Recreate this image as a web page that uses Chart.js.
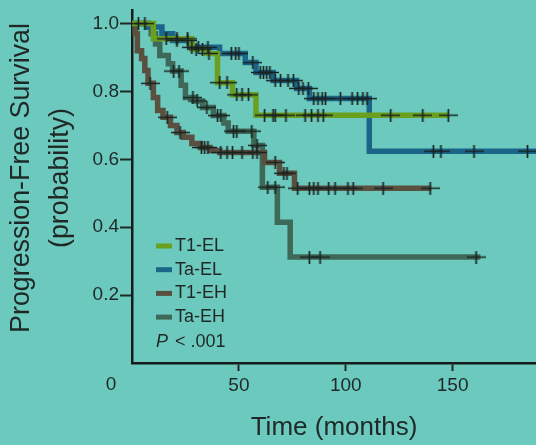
<!DOCTYPE html>
<html>
<head>
<meta charset="utf-8">
<script src="https://cdn.jsdelivr.net/npm/chart.js@4.4.1/dist/chart.umd.min.js"></script>
<style>
  html, body { margin: 0; padding: 0; background: #6cc9bd; overflow: hidden; }
  #wrap { position: relative; width: 536px; height: 445px; }
  #wrap canvas { display: block; }
</style>
</head>
<body>
<div id="wrap"><canvas id="km"></canvas></div>
<script>
(function () {
  "use strict";

  // groups and colours
  var groups = ["T1-EL", "Ta-EL", "T1-EH", "Ta-EH"];
  var colors = ["#6a9f1f", "#1b6589", "#5a5040", "#3e6857"];

  // step points (months, survival)
  var t1elTime = [0, 10, 28, 35, 40, 47, 58, 148];
  var t1elSurv = [1, 0.955, 0.925, 0.912, 0.826, 0.79, 0.73, 0.73];
  var t1elCens = [16, 21, 26, 30, 33, 36, 41, 44.5, 49, 51.5, 54.5, 62, 66, 67, 72, 81, 84, 87, 89.5, 121, 136, 148];

  var taelTime = [0, 8, 14, 19, 27, 41, 53, 58, 66, 77, 83, 111, 189];
  var taelSurv = [1, 0.99, 0.97, 0.95, 0.93, 0.912, 0.885, 0.856, 0.832, 0.809, 0.779, 0.624, 0.624];
  var taelCens = [3, 6, 21, 26, 28, 31, 35.5, 46.5, 48.5, 50, 56.5, 60, 61.5, 63, 64.5, 67, 69.5, 73, 75.5, 78, 80, 82.5,
                  85, 87, 89, 90.5, 97.5, 103, 105.5, 108, 110, 141, 144.5, 160, 185];

  var t1ehTime = [0, 1.5, 2.5, 4.5, 6, 7.5, 10, 12, 14.5, 18, 21, 24, 28, 32, 36.5, 41, 62, 69, 76, 140];
  var t1ehSurv = [1, 0.97, 0.92, 0.897, 0.862, 0.824, 0.782, 0.744, 0.724, 0.7, 0.679, 0.665, 0.647, 0.635, 0.626, 0.62,
                  0.591, 0.559, 0.515, 0.515];
  var t1ehCens = [8.5, 16.5, 22.5, 32.5, 34, 35.5, 41.5, 44.5, 47, 51.5, 56.5, 58.5, 67, 71, 72.5, 77.5, 83, 85, 87, 92,
                  95, 101, 103.5, 117.5, 139.5];

  var taehTime = [0, 7, 9, 11, 13, 17, 19, 23, 25, 29, 33, 38, 43, 45, 57, 61, 68, 74, 163];
  var taehSurv = [1, 0.99, 0.97, 0.94, 0.906, 0.882, 0.86, 0.818, 0.782, 0.772, 0.753, 0.729, 0.707, 0.683, 0.641,
                  0.518, 0.415, 0.312, 0.312];
  var taehCens = [19.5, 22, 28.5, 30.5, 35, 40, 41.5, 47.5, 49, 56, 58.5, 63.5, 67, 83, 88, 161];

  // axis ticks
  var xTicks = [50, 100, 150];
  var yTicks = [0.2, 0.4, 0.6, 0.8, 1.0];
  var yTitle = ['Progression-Free Survival', '(probability)'];

  var curves = [
    [t1elTime, t1elSurv, t1elCens],
    [taelTime, taelSurv, taelCens],
    [t1ehTime, t1ehSurv, t1ehCens],
    [taehTime, taehSurv, taehCens]
  ];

  function survAt(times, surv, t) {
    var v = surv[0];
    for (var i = 0; i < times.length; i++) {
      if (times[i] <= t) v = surv[i];
    }
    return v;
  }

  // censor mark: wide plus
  var mark = document.createElement('canvas');
  mark.width = 19;
  mark.height = 13;
  var mc = mark.getContext('2d');
  mc.strokeStyle = '#1a2422';
  mc.lineWidth = 1.7;
  mc.beginPath();
  mc.moveTo(0, 6.5); mc.lineTo(19, 6.5);
  mc.moveTo(9.5, 0); mc.lineTo(9.5, 13);
  mc.stroke();

  var datasets = [];
  curves.forEach(function (c, i) {
    datasets.push({
      label: groups[i] + ' censored',
      data: c[2].map(function (t) { return { x: t, y: survAt(c[0], c[1], t) }; }),
      pointStyle: mark,
      pointRadius: 6,
      showLine: false,
      order: 0
    });
  });
  curves.forEach(function (c, i) {
    datasets.push({
      label: groups[i],
      data: c[0].map(function (t, j) { return { x: t, y: c[1][j] }; }),
      showLine: true,
      stepped: 'before',
      borderColor: colors[i],
      borderWidth: 5.5,
      borderJoinStyle: 'miter',
      pointRadius: 0,
      fill: false,
      order: 1
    });
  });

  var fontFam = '"Liberation Sans", Arial, sans-serif';
  var ink = '#1f2826';

  var kmLegend = {
    id: 'kmLegend',
    afterDraw: function (chart) {
      var ctx = chart.ctx, area = chart.chartArea;
      ctx.save();
      ctx.textBaseline = 'middle';
      ctx.textAlign = 'left';
      ctx.font = '18px ' + fontFam;
      groups.forEach(function (name, i) {
        var y = area.top + 236 + i * 23.7;
        ctx.fillStyle = colors[i];
        ctx.fillRect(area.left + 24, y - 2.5, 16, 5);
        ctx.fillStyle = ink;
        ctx.fillText(name, area.left + 43, y);
      });
      var py = area.top + 332;
      ctx.font = 'italic 18px ' + fontFam;
      ctx.fillText('P', area.left + 24, py);
      var w = ctx.measureText('P').width;
      ctx.font = '18px ' + fontFam;
      ctx.fillText(' < .001', area.left + 24 + w + 2, py);

      // shared origin label
      ctx.textAlign = 'center';
      ctx.font = '19px ' + fontFam;
      ctx.fillText('0', chart.scales.x.getPixelForValue(0) - 21, area.bottom + 22);

      // y axis title, two rotated lines
      ctx.save();
      ctx.translate(22, area.top + 168);
      ctx.rotate(-Math.PI / 2);
      ctx.font = '26.8px ' + fontFam;
      yTitle.forEach(function (line, i) {
        ctx.fillText(line, 0, i * 39);
      });
      ctx.restore();
      ctx.restore();
    }
  };

  var ctx = document.getElementById('km').getContext('2d');
  var myChart = new Chart(ctx, {
    type: 'scatter',
    data: { datasets: datasets },
    plugins: [kmLegend],
    options: {
      responsive: true,
      maintainAspectRatio: false,
      animation: false,
      events: [],
      layout: { autoPadding: false, padding: { top: 10, right: 0, left: 0, bottom: 0 } },
      plugins: {
        legend: { display: false },
        tooltip: { enabled: false }
      },
      scales: {
        x: {
          type: 'linear',
          min: 0,
          max: 189,
          afterBuildTicks: function (scale) {
            scale.ticks = xTicks.map(function (v) { return { value: v }; });
          },
          afterFit: function (scale) {
            scale.height = 82;
            scale.paddingLeft = 0;
            scale.paddingRight = 0;
          },
          grid: { drawOnChartArea: false, drawTicks: true, tickLength: 8, tickColor: ink, tickWidth: 2 },
          border: { display: true, color: '#151c1b', width: 2.5 },
          ticks: { color: ink, font: { size: 19, family: fontFam }, padding: 3, maxRotation: 0 },
          title: {
            display: true,
            text: 'Time (months)',
            color: ink,
            font: { size: 26, family: fontFam, lineHeight: 1.2 },
            padding: { top: 0, bottom: 2 }
          }
        },
        y: {
          min: 0,
          max: 1.04,
          afterBuildTicks: function (scale) {
            scale.ticks = yTicks.map(function (v) { return { value: v }; });
          },
          afterFit: function (scale) {
            scale.width = 132;
            scale.paddingTop = 0;
            scale.paddingBottom = 0;
          },
          grid: { drawOnChartArea: false, drawTicks: true, tickLength: 12, tickColor: ink, tickWidth: 2 },
          border: { display: true, color: '#151c1b', width: 2.5 },
          ticks: {
            color: ink,
            font: { size: 19, family: fontFam },
            padding: 1,
            callback: function (v) { return v.toFixed(1); }
          },
          title: { display: false }
        }
      }
    }
  });
})();
</script>
</body>
</html>
